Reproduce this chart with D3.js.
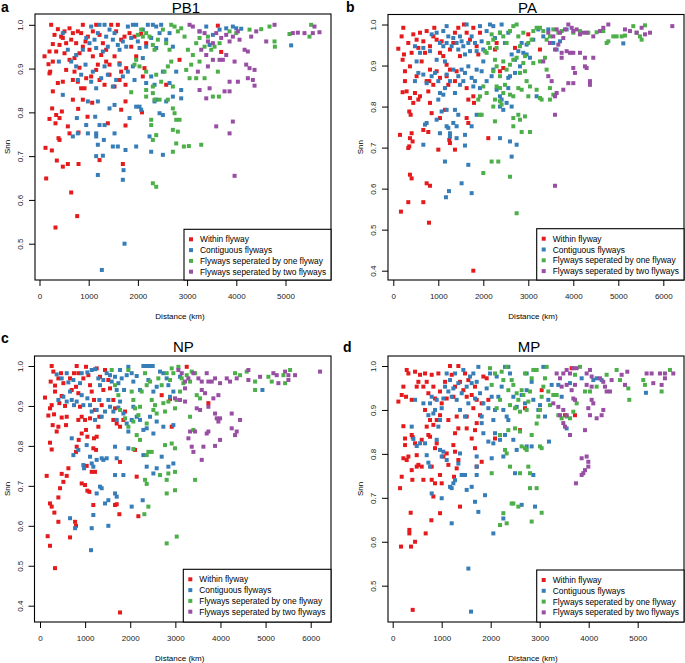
<!DOCTYPE html>
<html><head><meta charset="utf-8">
<script src="https://cdn.jsdelivr.net/npm/d3@7"></script>
<style>body{margin:0;background:#fff}svg{display:block}text{font-family:"Liberation Sans",Arial,Helvetica,sans-serif}</style>
</head><body>
<svg id="chart" width="685" height="663"></svg>
<script>
const categories = ["Within flyway","Contiguous flyways","Flyways seperated by one flyway","Flyways seperated by two flyways"];
const colors = ["#E41A1C","#377EB8","#4DAF4A","#984EA3"];
const panelNames = ["PB1","PA","NP","MP"];
const panelLetters = ["a","b","c","d"];
const xTicks5000 = [0,1000,2000,3000,4000,5000];
const xTicks6000 = [0,1000,2000,3000,4000,5000,6000];
const yTicks05 = [0.5,0.6,0.7,0.8,0.9,1.0];
const yTicks04 = [0.4,0.5,0.6,0.7,0.8,0.9,1.0];

// ---- PB1 ----
const pb1Within = [[237,1.0],[373,.99],[305,.977],[271,.956],[203,.939],[102,.928],[183,.91],[217,.893],[271,.916],[339,.939],[407,.954],[474,.97],[508,.985],[610,.992],[678,.981],[779,.985],[881,1.0],[847,.981],[935,.962],[1016,.943],[1084,.985],[1152,1.0],[1220,.977],[1288,.958],[1355,.943],[1457,1.0],[1558,.985],[1592,1.0],[1660,.966],[1728,.973],[1830,.981],[1864,.95],[1965,.928],[1931,.973],[881,.95],[813,.935],[711,.924],[610,.92],[508,.935],[542,.958],[440,.973],[644,.966],[745,.958],[983,.973],[1084,.928],[1186,.909],[1254,.931],[1355,.916],[1423,.909],[1525,.928],[1627,.912],[1762,.901],[1660,.893],[203,.889],[271,.848],[373,.867],[474,.87],[542,.897],[678,.874],[779,.87],[847,.855],[949,.878],[1050,.882],[1152,.897],[1220,.874],[1322,.863],[1423,.886],[1525,.859],[1627,.874],[1748,.863],[915,.855],[813,.902],[711,.893],[2100,.882],[2134,.901],[257,.809],[339,.794],[407,.787],[454,.802],[678,.829],[786,.808],[881,.829],[1071,.822],[1660,.806],[2083,.8],[1748,.825],[203,.785],[325,.775],[576,.768],[610,.752],[793,.754],[976,.79],[1389,.775],[1748,.77],[407,.737],[386,.741],[122,.719],[251,.713],[352,.69],[474,.676],[576,.682],[793,.682],[1220,.691],[1694,.682],[136,.649],[644,.617],[766,.563],[325,.537],[2575,.863],[2846,.92],[3693,.938],[3625,.998],[2066,.979],[2168,.958]];
const pb1Contig = [[474,.981],[576,.943],[745,.931],[881,.943],[949,.97],[1050,.996],[1118,.966],[1186,.981],[1220,1.0],[1322,1.0],[1355,.973],[1423,.989],[1491,.966],[1525,.981],[1592,.954],[1627,.943],[1694,.962],[1762,.95],[1796,.996],[1864,.97],[1898,1.0],[1965,1.0],[1999,.962],[2033,.947],[2100,.989],[2202,1.0],[2304,1.0],[2372,.996],[2473,1.0],[2440,.981],[2575,.966],[2643,.981],[2711,.95],[2372,.947],[2270,.97],[2168,.95],[1288,.939],[1389,.95],[1152,.947],[1016,.958],[3253,.985],[3389,.996],[3660,.989],[3795,.992],[3930,.996],[3998,.992],[4100,.991],[5115,.953],[3524,.977],[3457,.954],[393,.916],[474,.84],[644,.916],[745,.905],[847,.886],[935,.909],[983,.825],[1050,.87],[1084,.893],[1152,.855],[1186,.825],[1254,.878],[1322,.905],[1389,.886],[1423,.809],[1491,.859],[1525,.817],[1558,.874],[1627,.909],[1694,.882],[1796,.893],[1830,.787],[1898,.905],[1931,.874],[1965,.813],[2033,.813],[2066,.806],[2168,.867],[2270,.882],[2338,.863],[2372,.829],[2440,.798],[2508,.893],[2575,.825],[2643,.867],[2711,.836],[2779,.893],[2880,.851],[2880,.832],[2338,.825],[2100,.924],[779,.874],[949,.771],[983,.752],[779,.752],[678,.745],[759,.787],[1132,.79],[1152,.752],[1220,.771],[1322,.771],[1152,.745],[1186,.726],[1525,.752],[1491,.722],[1592,.722],[1308,.737],[1288,.701],[1152,.7],[1186,.657],[1748,.714],[1708,.668],[1694,.646],[1965,.722],[2270,.71],[2236,.745],[2508,.703],[2508,.794],[1728,.5],[1267,.44]];
const pb1One = [[1931,.909],[1965,.92],[1999,.977],[2066,.989],[2100,.973],[2168,.981],[2236,.973],[2304,.954],[2338,.943],[2406,.966],[2508,.989],[2575,.958],[2643,.943],[2677,1.0],[2745,.996],[2812,.985],[2880,.992],[2948,.973],[3016,.943],[3117,.931],[3185,.958],[3253,.97],[3355,.95],[3423,.973],[3491,.943],[3558,.95],[3660,.958],[3863,.985],[3998,.981],[4269,.989],[4506,.99],[4675,.996],[4777,.962],[4784,.95],[5081,.979],[5521,1.0],[5487,.973],[2033,.905],[2168,.893],[2168,.851],[2304,.859],[2372,.886],[2473,.87],[2541,.893],[2609,.905],[2677,.916],[2711,.859],[2609,.829],[2711,.809],[2745,.798],[2779,.783],[2711,.76],[2812,.756],[2846,.783],[2982,.897],[3050,.878],[3083,.909],[3185,.878],[3253,.916],[3355,.878],[3524,.836],[3646,.836],[3625,.893],[2168,.836],[2304,.844],[2338,.829],[2440,.829],[1864,.846],[2270,.783],[2270,.771],[2372,.748],[2304,.737],[2779,.729],[2711,.71],[2934,.722],[3036,.723],[3287,.726],[2304,.638],[2372,.63]];
const pb1Two = [[3050,1.0],[3117,.996],[3253,.985],[3355,.981],[3423,.962],[3524,.958],[3592,.981],[3693,.97],[3795,.977],[3863,.962],[3930,.973],[4032,.985],[4066,.966],[4168,.943],[4303,.973],[4405,.985],[4608,.962],[4777,1.0],[5251,.982],[5386,.981],[5555,.981],[5690,.983],[5589,.996],[5149,.981],[3287,.943],[3389,.931],[3524,.92],[3660,.92],[3727,.92],[3795,.931],[3965,.916],[4201,.909],[4269,.901],[4371,.897],[4337,.874],[4235,.878],[4371,.861],[3423,.905],[3219,.893],[3863,.87],[4032,.87],[3253,.851],[3457,.855],[3389,.832],[3761,.848],[3863,.848],[3930,.779],[3592,.768],[3863,.752],[3965,.655],[4235,.939]];

// ---- PA ----
const paWithin = [[111,.941],[222,.992],[185,.971],[207,.914],[237,.927],[259,.886],[259,.862],[296,.837],[207,.835],[370,.898],[407,.931],[333,.955],[444,.976],[518,.963],[593,.98],[667,.959],[556,.943],[630,.91],[704,.931],[741,.984],[815,.947],[889,.971],[911,.992],[963,.963],[1037,.931],[1074,.959],[1037,.87],[963,.886],[815,.89],[741,.862],[778,.837],[593,.825],[518,.874],[481,.833],[370,.821],[444,.809],[355,.788],[385,.78],[556,.817],[815,.809],[852,.784],[667,.743],[778,.738],[148,.731],[370,.723],[355,.703],[333,.699],[429,.715],[407,.735],[1000,.695],[1037,.772],[1148,.792],[1259,.711],[1244,.719],[1370,.695],[2111,.723],[370,.634],[407,.625],[741,.613],[815,.607],[333,.567],[667,.567],[170,.544],[793,.517],[1778,.4],[1111,.923],[1185,.902],[1259,.939],[1333,.955],[1370,.98],[1444,.992],[1570,1.0],[1630,.98],[1704,.963],[1778,.992],[1852,.947],[1926,.98],[1481,.923],[1407,.886],[1370,.862],[1259,.89],[1222,.853],[1630,.845],[1667,.817],[1778,.825],[1793,.809],[1889,.927],[2259,.939],[2296,.955],[2370,.886],[2444,.894],[2704,.943],[3000,.976],[3259,.939],[1630,.772],[1667,.76],[889,.853],[800,.862],[1185,.874]];
const paContig = [[481,.947],[593,.931],[667,.943],[815,.935],[852,.976],[963,.98],[1037,.955],[1111,.984],[1185,.996],[1222,.971],[1296,.947],[1333,.967],[1407,.955],[1444,.939],[1481,.971],[1518,.959],[1556,.947],[1593,.927],[1630,1.0],[1667,.955],[1704,.935],[1741,.971],[1815,.955],[1852,.935],[1926,.996],[1963,.959],[2000,.939],[2074,.984],[2148,1.0],[2222,.996],[2259,.967],[2370,.98],[2407,1.0],[2481,.955],[2555,.98],[2630,.927],[2704,.914],[2778,.935],[2852,.955],[2889,.931],[2963,.951],[3037,.919],[3111,.963],[3222,.988],[3333,.971],[3444,.988],[3556,.955],[3630,.939],[3704,.959],[3852,.988],[5111,.954],[1111,.947],[1185,.955],[963,.914],[1148,.91],[518,.91],[556,.882],[481,.862],[667,.878],[741,.857],[852,.874],[926,.882],[1000,.862],[1037,.833],[1111,.829],[1148,.845],[1185,.878],[1259,.862],[1333,.89],[1370,.833],[1444,.874],[1481,.853],[1518,.89],[1556,.862],[1593,.882],[1667,.898],[1741,.87],[1778,.849],[1815,.862],[1852,.89],[1926,.845],[1963,.886],[2000,.91],[2074,.862],[2185,.874],[2222,.89],[2296,.841],[2370,.8],[2407,.817],[2444,.792],[2518,.809],[2555,.845],[2593,.874],[2704,.882],[2815,.898],[2963,.927],[3185,.825],[2555,.87],[1000,.817],[1074,.788],[963,.768],[741,.76],[704,.756],[1037,.735],[1185,.792],[1185,.752],[1222,.748],[1259,.735],[1259,.727],[1370,.792],[1444,.78],[1407,.752],[1333,.76],[1407,.723],[1593,.731],[1593,.705],[1741,.752],[1852,.78],[667,.707],[1148,.666],[1667,.658],[2370,.723],[2593,.715],[2741,.707],[2630,.678],[1518,.613],[1237,.594],[1170,.579],[1741,.589],[2630,.8],[2370,.825]];
const paOne = [[1889,.817],[1926,.825],[1963,.78],[2037,.935],[2074,.931],[2111,.955],[2148,.943],[2185,.976],[2222,.963],[2259,.914],[2296,.943],[2370,.98],[2444,.971],[2518,.955],[2593,.984],[2667,.996],[2741,1.0],[2778,.971],[2815,.947],[2889,.98],[2926,.923],[3000,.955],[3074,.963],[3111,.984],[3185,.992],[3259,.992],[3333,.984],[3407,.963],[3481,.971],[3556,.988],[3667,.98],[3741,.984],[4000,.98],[4148,.984],[4333,.98],[4518,.981],[4667,.984],[4741,.955],[4778,.959],[4889,.971],[4963,.971],[5074,.971],[5148,.973],[5333,.996],[5407,.98],[5481,.971],[5518,.963],[5593,.998],[2222,.886],[2296,.898],[2370,.874],[2444,.91],[2518,.89],[2593,.902],[2667,.914],[2741,.919],[2815,.882],[2889,.906],[2926,.886],[2963,.862],[3000,.825],[3037,.849],[3185,.841],[3259,.821],[3296,.817],[3407,.89],[3370,.919],[3259,.91],[3111,.906],[3481,.845],[3556,.829],[3481,.817],[2296,.849],[2370,.845],[2444,.833],[2481,.853],[2370,.813],[2407,.805],[2222,.8],[2259,.817],[2593,.829],[2667,.825],[2778,.845],[2852,.841],[2000,.849],[2074,.833],[1926,.78],[2259,.764],[2667,.772],[2778,.78],[2815,.768],[2926,.776],[2667,.752],[2852,.738],[3037,.738],[2000,.638],[2185,.666],[2333,.666],[2593,.629],[2741,.54]];
const paTwo = [[3444,.98],[3556,.971],[3630,.988],[3704,.98],[3778,.967],[3815,.988],[3889,1.0],[3963,.992],[4000,.984],[4074,.988],[4148,.976],[4222,.98],[4296,.98],[4444,.971],[4593,.984],[4667,.992],[4778,1.0],[5148,.988],[5259,.984],[5407,.98],[5518,.992],[5593,.976],[5704,.98],[6200,.996],[3481,.955],[3593,.939],[3667,.951],[3741,.931],[3852,.935],[3926,.931],[4000,.931],[4148,.931],[3741,.919],[3333,.91],[3444,.874],[3519,.862],[3593,.825],[3630,.833],[3778,.841],[3889,.857],[4000,.857],[4000,.894],[4037,.882],[4259,.898],[4296,.894],[4259,.919],[4444,.919],[4370,.862],[4370,.853],[3593,.78],[3593,.607]];

// ---- NP ----
const npWithin = [[111,.921],[185,.876],[222,.894],[259,.902],[222,.808],[259,.791],[148,.725],[170,.574],[259,1.0],[296,.986],[237,.961],[333,.936],[281,.852],[311,.879],[370,.836],[407,.848],[429,.907],[333,.951],[407,.969],[466,.982],[518,.957],[481,.925],[555,.9],[481,.871],[577,.852],[592,.873],[666,.969],[703,.94],[754,.982],[813,1.0],[850,.982],[798,.948],[850,.932],[887,.898],[924,.873],[850,.865],[924,.831],[858,.815],[813,.798],[798,.785],[961,.969],[1020,.998],[1072,.977],[1109,.952],[1146,.936],[1197,.915],[1220,.89],[1109,.869],[1020,.84],[998,.865],[1050,.823],[1197,.819],[1256,.823],[1293,.848],[1182,.794],[1242,.79],[1315,.873],[1367,.902],[1404,.94],[1330,.973],[1256,.994],[1441,.99],[1515,.965],[1552,.944],[1626,.915],[1663,.894],[1626,.865],[1700,.856],[1774,.848],[1848,.865],[1885,.886],[222,.656],[259,.648],[318,.633],[407,.671],[481,.73],[518,.71],[592,.725],[629,.744],[444,.694],[407,.61],[333,.494],[222,.55],[666,.571],[777,.61],[798,.6],[924,.706],[998,.702],[1050,.688],[1094,.685],[1035,.75],[1182,.652],[1146,.735],[1220,.735],[1663,.652],[1700,.654],[1759,.629],[1774,.76],[2106,.79],[2143,.723],[2180,.624],[2919,.848],[2882,.917],[2697,.927],[3252,.998],[3732,.907],[1774,.383]];
const npContig = [[370,.979],[481,.969],[592,.982],[629,.959],[666,.936],[740,.965],[887,.957],[924,.982],[1050,.984],[1146,.99],[1220,.992],[1293,.969],[1330,.952],[1404,.965],[1478,.982],[1552,.977],[1589,.961],[1663,.973],[1700,.94],[1737,.957],[1774,.99],[1811,.969],[1863,.94],[1922,.977],[1958,.998],[2032,.982],[2069,.961],[2143,.975],[2217,.94],[2291,1.0],[2365,1.0],[2439,1.0],[2498,1.0],[2402,.965],[2513,.936],[2586,.948],[2660,.986],[2734,.982],[2808,.969],[2845,.952],[2882,.923],[2956,.936],[3104,.973],[4930,.94],[407,.915],[518,.923],[592,.911],[703,.915],[754,.902],[813,.911],[924,.927],[961,.902],[1050,.919],[1109,.902],[1146,.886],[1220,.865],[1256,.89],[1315,.915],[1367,.873],[1441,.886],[1515,.915],[1552,.898],[1626,.886],[1700,.865],[1737,.896],[1774,.911],[1848,.881],[1922,.856],[1958,.836],[2032,.865],[2069,.898],[2143,.873],[2217,.865],[2291,.84],[2365,.844],[2439,.873],[2513,.831],[2586,.861],[2734,.848],[2956,.852],[703,.819],[740,.777],[850,.79],[961,.752],[976,.744],[1035,.802],[1109,.773],[1146,.756],[1182,.748],[1256,.765],[1367,.769],[1404,.765],[1478,.769],[1663,.798],[1700,.769],[1663,.727],[1958,.794],[2291,.777],[2365,.748],[2513,.731],[2586,.744],[2697,.773],[2845,.748],[2956,.756],[666,.619],[777,.594],[1182,.627],[1256,.681],[1330,.698],[1367,.694],[1441,.656],[1515,.664],[1663,.681],[1700,.673],[1848,.727],[2032,.648],[2276,.664],[1146,.594],[1515,.6],[1131,.539]];
const npOne = [[1589,.99],[1663,.952],[1737,.927],[1774,.89],[1885,.869],[1958,.99],[2032,.936],[2069,.915],[2106,.894],[2180,.877],[2217,.898],[2254,.936],[2328,.982],[2365,.952],[2439,.961],[2476,.915],[2513,.89],[2549,.902],[2586,.881],[2623,.969],[2697,.952],[2734,.907],[2771,.886],[2808,.982],[2845,.911],[2882,.965],[2919,.994],[2956,.982],[2993,.894],[3030,.915],[3067,.998],[3104,.936],[3141,.969],[3178,.957],[3252,.977],[3326,.961],[3363,.986],[3437,.982],[3326,.873],[3400,.84],[3474,.927],[3548,.919],[4323,.982],[4434,.977],[4582,.986],[4767,.961],[4767,.94],[5062,.973],[5136,.961],[5395,.977],[5432,.957],[5543,.99],[1958,.848],[2069,.861],[2143,.827],[2217,.815],[2365,.856],[2402,.785],[2365,.777],[2476,.785],[2771,.802],[2919,.806],[2993,.794],[2660,.727],[2808,.715],[2808,.681],[2993,.689],[2993,.735],[2845,.731],[2328,.715],[2365,.705],[3437,.715],[2402,.648],[2313,.629],[2808,.556],[3030,.573],[2069,.792]];
const npTwo = [[3067,.99],[3141,.982],[3215,.961],[3289,.969],[3400,.982],[3511,.969],[3585,.961],[3695,.982],[3732,.961],[3806,.961],[3880,.969],[3991,.957],[4139,.969],[4212,.961],[4360,.969],[4619,.99],[4619,.965],[4878,.973],[5173,.982],[5247,.977],[5284,.957],[5432,.986],[5506,.977],[5506,.965],[5653,.977],[6207,.986],[2993,.919],[3104,.915],[3215,.911],[3215,.944],[3474,.894],[3548,.89],[3585,.94],[3659,.932],[3732,.898],[3843,.919],[3954,.927],[3326,.836],[3289,.819],[3437,.836],[3363,.798],[3400,.785],[3622,.798],[3585,.765],[3695,.831],[3732,.836],[3880,.8],[3991,.815],[3880,.881],[3917,.869],[3991,.869],[3954,.861],[4249,.881],[4249,.844],[4323,.827],[4434,.865],[4360,.836]];

// ---- MP ----
const mpWithin = [[116,.919],[170,.589],[150,.722],[184,.748],[218,.863],[252,.835],[252,.82],[286,.786],[218,.79],[320,.794],[340,.627],[340,.619],[367,.666],[374,.589],[456,.6],[388,.843],[408,.838],[456,.824],[490,.797],[524,.775],[490,.771],[388,.763],[401,.741],[592,.771],[592,.832],[660,.9],[694,.862],[728,.843],[762,.839],[626,.741],[673,.619],[789,.649],[796,.771],[796,.741],[830,.703],[864,.733],[966,.752],[1000,.733],[966,.665],[1034,.794],[1102,.801],[1136,.775],[1136,.877],[966,.888],[898,.877],[830,.866],[762,.877],[864,.813],[898,.824],[286,.991],[320,.983],[218,.953],[184,.934],[272,.93],[388,.923],[456,.987],[490,.953],[524,.964],[558,.98],[626,.953],[660,.983],[694,.964],[728,.938],[796,.98],[830,.953],[864,.926],[932,.983],[966,.942],[1000,.915],[1068,.964],[1102,.926],[1170,1.0],[1204,.98],[1238,.93],[1272,.953],[1340,1.0],[1374,.964],[1442,.945],[1476,.983],[1510,.93],[1544,.968],[1612,.934],[1646,.904],[1680,.953],[1714,.923],[1816,.915],[1850,.976],[1918,.972],[1952,.923],[1306,.885],[1340,.858],[1510,.858],[1612,.835],[1680,.854],[1714,.87],[1782,.888],[1510,.885],[1272,.847],[1238,.82],[1272,.805],[1340,.786],[1306,.767],[1251,.748],[1374,.68],[1680,.813],[1714,.771],[1816,.782],[2088,.835],[2598,.854],[2700,.904],[3040,.945],[3516,.888],[3720,.888],[3652,.995],[408,.445]];
const mpContig = [[456,.923],[388,.862],[422,.834],[490,.818],[626,.915],[728,.888],[762,.915],[796,.93],[830,.892],[864,.9],[898,.923],[932,.862],[966,.877],[1000,.904],[1034,.926],[1068,.953],[1102,.983],[1136,.942],[1170,.968],[1204,.93],[1238,.949],[1272,.983],[1306,.923],[1340,.961],[1374,.9],[1408,.938],[1442,.991],[1476,.885],[1510,.953],[1544,.915],[1578,.976],[1612,.961],[1646,.983],[1680,.926],[1714,.964],[1748,.998],[1782,.938],[1816,.885],[1850,.915],[1918,.949],[1952,.904],[1986,.983],[2020,.93],[2054,.877],[2088,.9],[2122,.976],[2156,.93],[2224,.953],[2258,.9],[2292,.998],[2360,.998],[2394,.983],[2326,.885],[2360,.877],[2462,.93],[2530,.907],[2632,.934],[2700,.915],[2734,.945],[2836,.964],[2870,.923],[2972,.9],[3006,.911],[3108,.885],[3176,.923],[3244,.957],[3380,.957],[3448,.93],[3550,.858],[3618,.961],[3856,.972],[4094,.968],[4162,.972],[4264,.968],[5168,.939],[2734,.983],[3074,.998],[558,.824],[660,.824],[694,.797],[728,.78],[762,.771],[796,.71],[898,.832],[966,.809],[1000,.794],[1034,.805],[1000,.699],[1102,.786],[1170,.725],[1204,.722],[1238,.733],[1204,.642],[1272,.74],[1340,.778],[1374,.801],[1408,.752],[1476,.752],[1510,.718],[1612,.725],[1680,.691],[1714,.794],[1714,.771],[1714,.752],[1748,.668],[1816,.87],[1850,.847],[1884,.706],[1952,.828],[2020,.79],[2054,.824],[2088,.847],[2190,.832],[2258,.794],[2292,.843],[2462,.832],[2496,.756],[2530,.809],[2734,.817],[2836,.817],[2870,.752],[2904,.68],[2632,.684],[2258,.653],[2054,.619],[1544,.539],[1598,.441],[3189,.828]];
const mpOne = [[1986,.995],[2020,.957],[2088,.983],[2122,.904],[2190,.923],[2224,.987],[2258,.968],[2326,.998],[2360,.945],[2394,.911],[2428,.968],[2462,.957],[2496,.904],[2530,.938],[2564,.923],[2598,.896],[2632,.945],[2666,.934],[2700,.983],[2734,.9],[2768,.919],[2802,.942],[2836,.972],[2870,.991],[2938,.991],[2972,.885],[3006,.9],[3040,.93],[3074,.953],[3108,.972],[3142,.998],[3176,.942],[3210,.911],[3278,.934],[3346,.934],[3380,.888],[3448,.881],[3550,.885],[3618,.881],[3686,.896],[3754,.915],[3822,.998],[3720,.98],[3924,.942],[4026,.942],[4162,.953],[4366,.98],[4570,.991],[4638,.968],[4808,.949],[4828,.923],[5114,.968],[5148,.957],[5488,.942],[5658,.991],[2360,.854],[2190,.843],[2292,.809],[2326,.801],[2496,.858],[2598,.851],[2632,.817],[2700,.813],[2734,.809],[2836,.843],[2938,.869],[3006,.817],[3040,.813],[2020,.756],[2394,.771],[2598,.756],[2768,.771],[2802,.756],[2802,.722],[2938,.722],[2190,.638],[2326,.642],[2258,.665],[2428,.687],[2462,.687],[2564,.68],[2836,.646],[3040,.666]];
const mpTwo = [[3482,.983],[3550,.991],[3618,.983],[3686,.995],[3754,.995],[3346,.983],[3414,.972],[3448,.953],[3550,.957],[3652,.945],[3686,.926],[3720,.923],[3720,.957],[3958,.983],[4026,.991],[4060,.976],[3958,.957],[4060,.953],[4060,.923],[4094,.915],[4230,.972],[4298,.964],[4332,.953],[4366,.942],[4434,.942],[4468,.968],[4298,.9],[4264,.888],[4162,.881],[4026,.888],[3992,.904],[3278,.915],[3380,.907],[3482,.9],[3550,.888],[3414,.888],[3482,.87],[3516,.862],[3618,.843],[3924,.854],[3856,.79],[3958,.794],[3992,.782],[3924,.763],[3890,.756],[3856,.752],[3992,.771],[3740,.733],[4672,.98],[4788,.987],[4740,.957],[5182,.983],[5284,.983],[5318,.961],[5454,.983],[5556,.983],[5556,.972],[5726,.983],[5488,.957]];

const panelSeries = [
  [pb1Within, pb1Contig, pb1One, pb1Two],
  [paWithin, paContig, paOne, paTwo],
  [npWithin, npContig, npOne, npTwo],
  [mpWithin, mpContig, mpOne, mpTwo]
];
const panelXTicks = [xTicks5000, xTicks6000, xTicks6000, xTicks5000];
const panelYTicks = [yTicks05, yTicks04, yTicks04, yTicks05];

// layout (pixels)
const layout = [
  {box:[35,14,331,280], xr:[39.5,285.5], xd:[0,5000], yr:[243.7,24.8], yd:[0.5,1.0], title:[186,12.5], letter:[1,12], leg:[184,229.3]},
  {box:[388,14.5,684,280], xr:[393.3,663.3], xd:[0,6000], yr:[270.7,24.5], yd:[0.4,1.0], title:[527.5,12.5], letter:[346,12], leg:[536.7,228.7]},
  {box:[34.5,356,331,622], xr:[40,310.7], xd:[0,6000], yr:[605.7,366], yd:[0.4,1.0], title:[183.3,351.5], letter:[1,343], leg:[183.3,569.3]},
  {box:[388,356,684,622], xr:[392.7,637.7], xd:[0,5000], yr:[585.7,366], yd:[0.5,1.0], title:[529,351.5], letter:[343,352], leg:[536.7,570]}
];

const svg = d3.select("#chart");
const font = '"Liberation Sans",Arial,Helvetica,sans-serif';

layout.forEach((L, i) => {
  const [bx0, by0, bx1, by1] = L.box;
  const x = d3.scaleLinear().domain(L.xd).range(L.xr);
  const y = d3.scaleLinear().domain(L.yd).range(L.yr);
  const g = svg.append("g");

  // points
  panelSeries[i].forEach((series, s) => {
    g.append("g").selectAll("rect").data(series).join("rect")
      .attr("x", d => x(d[0]) - 2).attr("y", d => y(d[1]) - 2)
      .attr("width", 4).attr("height", 4).attr("fill", colors[s]);
  });

  // box
  g.append("rect").attr("x", bx0).attr("y", by0).attr("width", bx1 - bx0).attr("height", by1 - by0)
    .attr("fill", "none").attr("stroke", "#000").attr("stroke-width", 1.1);

  // x axis
  const xa = g.append("g").attr("transform", `translate(0,${by1})`)
    .call(d3.axisBottom(x).tickValues(panelXTicks[i]).tickSize(6).tickFormat(d3.format("d")));
  xa.select(".domain").remove();
  xa.selectAll("line").attr("stroke", "#000");
  xa.selectAll("text").attr("y", 19).attr("dy", null).attr("font-size", 8).attr("font-family", font).attr("fill", "#222");

  // y axis
  const ya = g.append("g").attr("transform", `translate(${bx0},0)`)
    .call(d3.axisLeft(y).tickValues(panelYTicks[i]).tickSize(6).tickFormat(d3.format(".1f")));
  ya.select(".domain").remove();
  ya.selectAll("line").attr("stroke", "#000");
  ya.selectAll("text").attr("x", null).attr("dy", null).attr("text-anchor", "middle")
    .attr("transform", "translate(-12,0) rotate(-90)")
    .attr("font-size", 8).attr("font-family", font).attr("fill", "#222");

  // axis titles
  g.append("text").attr("x", (bx0 + bx1) / 2 - 3).attr("y", by1 + 39).attr("text-anchor", "middle")
    .attr("font-size", 8).attr("font-family", font).text("Distance (km)");
  g.append("text").attr("transform", `translate(${bx0 - 25},${(by0 + by1) / 2}) rotate(-90)`)
    .attr("text-anchor", "middle").attr("font-size", 8).attr("font-family", font).text("Snn");

  // title & letter
  g.append("text").attr("x", L.title[0]).attr("y", L.title[1]).attr("text-anchor", "middle")
    .attr("font-size", 15).attr("font-family", font).text(panelNames[i]);
  g.append("text").attr("x", L.letter[0]).attr("y", L.letter[1])
    .attr("font-size", 14).attr("font-weight", "bold").attr("font-family", font).text(panelLetters[i]);

  // legend
  const [lx, ly] = L.leg;
  const lg = g.append("g");
  lg.append("rect").attr("x", lx).attr("y", ly).attr("width", bx1 - lx).attr("height", by1 - ly)
    .attr("fill", "#fff").attr("stroke", "#000").attr("stroke-width", 1.1);
  categories.forEach((c, k) => {
    const cy = ly + 10 + k * 10.8;
    lg.append("rect").attr("x", lx + 5).attr("y", cy - 2).attr("width", 4).attr("height", 4).attr("fill", colors[k]);
    lg.append("text").attr("x", lx + 16).attr("y", cy + 3).attr("font-size", 8.4).attr("font-family", font).text(c);
  });
});
</script>
</body></html>
